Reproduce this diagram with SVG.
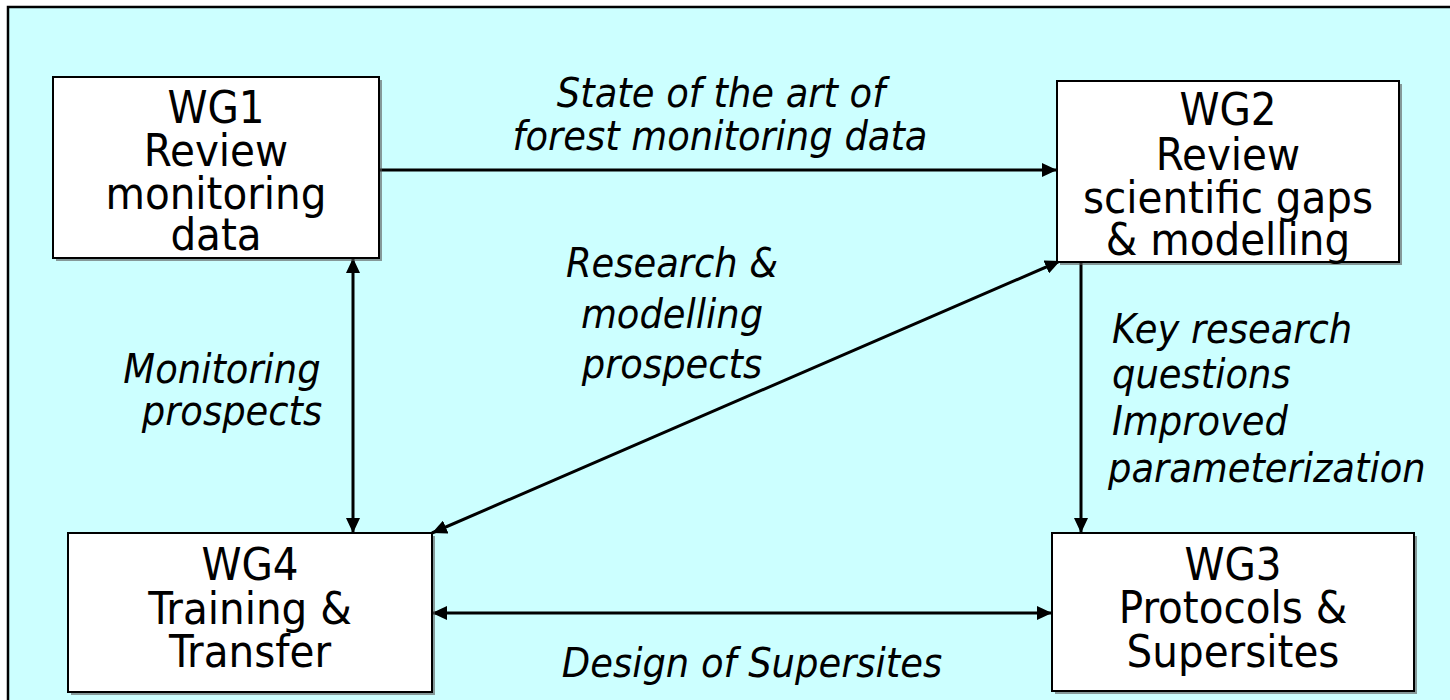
<svg xmlns="http://www.w3.org/2000/svg" width="1450" height="700" viewBox="0 0 1450 700">
<defs>
<style>
.frame{fill:#CCFFFF;stroke:#000;stroke-width:2.5}
.shadow{fill:#555;opacity:0.6}
.box{fill:#fff;stroke:#000;stroke-width:2}
.nt{font-family:"DejaVu Sans Condensed","DejaVu Sans",sans-serif;font-stretch:condensed;font-size:45px;fill:#000;text-anchor:middle}
.lb{font-family:"DejaVu Sans Condensed","DejaVu Sans",sans-serif;font-stretch:condensed;font-style:italic;font-size:41px;fill:#000}
.c{text-anchor:middle}
.con{fill:none;stroke:#000;stroke-width:3}
</style>
<marker id="ah" viewBox="0 0 15 14" refX="15" refY="7" markerWidth="15" markerHeight="14" markerUnits="userSpaceOnUse" orient="auto-start-reverse">
<path d="M0,0 L15,7 L0,14 Z" fill="#000"/>
</marker>
</defs>
<rect width="1450" height="700" fill="#fff"/>
<rect class="frame" x="8" y="7" width="1470" height="720"/>

<g id="connectors">
<line class="con" x1="379" y1="170" x2="1057" y2="170" marker-end="url(#ah)"/>
<line class="con" x1="353" y1="258" x2="353" y2="533" marker-start="url(#ah)" marker-end="url(#ah)"/>
<line class="con" x1="1060" y1="261" x2="432" y2="533" marker-start="url(#ah)" marker-end="url(#ah)"/>
<line class="con" x1="1081" y1="262" x2="1081" y2="533" marker-end="url(#ah)"/>
<line class="con" x1="432" y1="613" x2="1052" y2="613" marker-start="url(#ah)" marker-end="url(#ah)"/>
</g>

<g id="wg1">
<rect class="shadow" x="56" y="80" width="326" height="181"/>
<rect class="box" x="53" y="77" width="326" height="181"/>
<text class="nt" x="216" y="123">WG1</text>
<text class="nt" x="216" y="166">Review</text>
<text class="nt" x="216" y="209">monitoring</text>
<text class="nt" x="216" y="250">data</text>
</g>

<g id="wg2">
<rect class="shadow" x="1060" y="84" width="342" height="181"/>
<rect class="box" x="1057" y="81" width="342" height="181"/>
<text class="nt" x="1228" y="125">WG2</text>
<text class="nt" x="1228" y="170">Review</text>
<text class="nt" x="1228" y="213">scientific gaps</text>
<text class="nt" x="1228" y="255">&amp; modelling</text>
</g>

<g id="wg4">
<rect class="shadow" x="71" y="536" width="364" height="159"/>
<rect class="box" x="68" y="533" width="364" height="159"/>
<text class="nt" x="250" y="580">WG4</text>
<text class="nt" x="250" y="624">Training &amp;</text>
<text class="nt" x="250" y="667">Transfer</text>
</g>

<g id="wg3">
<rect class="shadow" x="1055" y="536" width="362" height="158"/>
<rect class="box" x="1052" y="533" width="362" height="158"/>
<text class="nt" x="1233" y="580">WG3</text>
<text class="nt" x="1233" y="623">Protocols &amp;</text>
<text class="nt" x="1233" y="667">Supersites</text>
</g>

<g id="labels">
<text class="lb c" x="721" y="107">State of the art of</text>
<text class="lb c" x="720" y="150">forest monitoring data</text>
<text class="lb c" x="672" y="277">Research &amp;</text>
<text class="lb c" x="672" y="328">modelling</text>
<text class="lb c" x="672" y="378">prospects</text>
<text class="lb c" x="222" y="383">Monitoring</text>
<text class="lb c" x="232" y="425">prospects</text>
<text class="lb" x="1112" y="343">Key research</text>
<text class="lb" x="1112" y="388">questions</text>
<text class="lb" x="1112" y="435">Improved</text>
<text class="lb" x="1108" y="482">parameterization</text>
<text class="lb c" x="752" y="677">Design of Supersites</text>
</g>
</svg>
